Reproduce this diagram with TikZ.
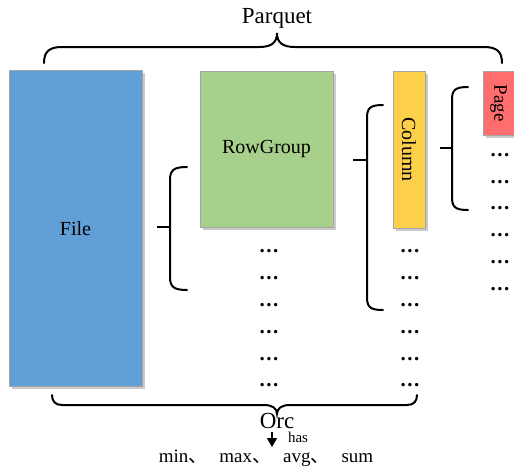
\documentclass[tikz,border=0pt]{standalone}
\usepackage{fontspec}
\setmainfont{Liberation Serif}
\newfontfamily\cjk{Noto Sans CJK SC}
\usetikzlibrary{shadows,arrows.meta}
\definecolor{fileblue}{HTML}{619FD6}
\definecolor{rggreen}{HTML}{A8D08D}
\definecolor{colyellow}{HTML}{FDD04B}
\definecolor{pagered}{HTML}{FF6E6E}
\tikzset{
  box/.style={draw=black!35, line width=0.6pt, inner sep=0pt,
    drop shadow={shadow xshift=2.5pt, shadow yshift=-2.5pt, opacity=0.35, fill=black!60}},
  brace/.style={line width=2pt, line cap=round},
  dots/.style={font=\fontsize{21}{21}\selectfont\bfseries, inner sep=0pt},
  lbl/.style={font=\fontsize{#1}{#1}\selectfont, inner sep=0pt},
}
\newcommand{\mydots}{.\kern1.6pt.\kern1.6pt.}
\newcommand{\sep}{{\cjk 、}\hspace{12pt}}
\begin{document}
\begin{tikzpicture}[x=1pt,y=-1pt]
\useasboundingbox (0,0) rectangle (514,467);
% boxes
\node[box, fill=fileblue, minimum width=133pt, minimum height=316pt] (file) at (75.5,228.5) {};
\node[lbl=20] at (file.center) {File};
\node[box, fill=rggreen, minimum width=133pt, minimum height=156pt] (rg) at (266.5,149) {};
\node[lbl=20] at (rg.center) {RowGroup};
\node[box, fill=colyellow, minimum width=32pt, minimum height=157pt] (col) at (409,149.5) {};
\node[lbl=20, rotate=-90] at (col.center) {Column};
\node[box, fill=pagered, minimum width=31pt, minimum height=64pt] (page) at (498.5,103) {};
\node[lbl=19, rotate=-90] at (page.center) {Page};
% dots
\foreach \i/\y in {1/251,2/278,3/305,4/332,5/359,6/385}{
  \node[dots] (rd\i) at (269,\y) {\mydots};
  \node[dots] (cd\i) at (410,\y) {\mydots};
}
\foreach \i/\y in {1/155,2/182,3/208,4/235,5/262,6/289}{
  \node[dots] (pd\i) at (500,\y) {\mydots};
}
% top brace
\draw[brace] (44,63) .. controls (44,51) and (50,47) .. (62,47) -- (259,47)
  .. controls (271,47) and (277,43) .. (277,33)
  .. controls (277,43) and (283,47) .. (295,47) -- (484,47)
  .. controls (496,47) and (502,51) .. (502,63);
\node[lbl=23] (parquet) at (277,18) {Parquet};
% bottom brace
\draw[brace] (52,395) .. controls (52,401) and (55,405) .. (62,405) -- (264,405)
  .. controls (272,405) and (277,408) .. (277,414)
  .. controls (277,408) and (282,405) .. (290,405) -- (407,405)
  .. controls (414,405) and (417,401) .. (417,395);
\node[lbl=23] (orc) at (277,421) {Orc};
% File -> RowGroup brace
\draw[brace] (187,167) .. controls (174,167) and (170,170) .. (170,180) -- (170,277)
  .. controls (170,287) and (174,290) .. (187,290);
\coordinate (b1) at (170,227);
\draw[brace, line cap=butt] (157,227) -- (b1);
% RowGroup -> Column brace
\draw[brace] (383,105) .. controls (370,105) and (367,108) .. (367,118) -- (367,297)
  .. controls (367,307) and (370,310) .. (383,310);
\coordinate (b2) at (367,160);
\draw[brace, line cap=butt] (353,160) -- (b2);
% Column -> Page brace
\draw[brace] (468,87) .. controls (455,87) and (452,90) .. (452,100) -- (452,197)
  .. controls (452,207) and (455,210) .. (468,210);
\coordinate (b3) at (452,148);
\draw[brace, line cap=butt] (440,148) -- (b3);
% has arrow
\coordinate (a1) at (272,432);
\coordinate (a2) at (272,447);
\draw[line width=1.2pt, -{Triangle[length=9pt,width=10pt]}] (a1) -- (a2);
\node[lbl=15] (has) at (298,437) {has};
\node[lbl=19] (stats) at (266,458) {min\sep max\sep avg\sep sum};
\end{tikzpicture}
\end{document}
